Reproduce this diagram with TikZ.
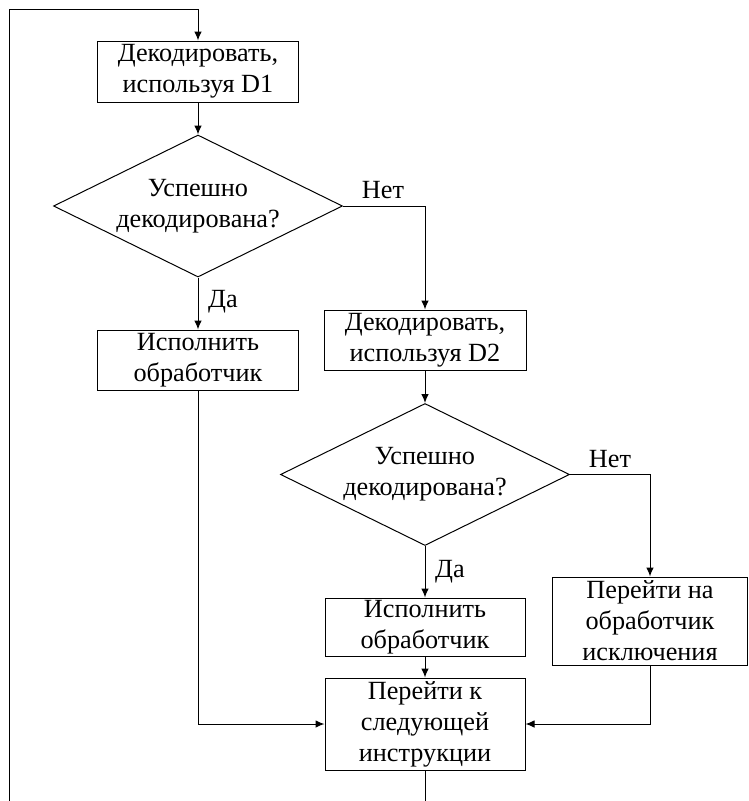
\documentclass[tikz,border=0pt]{standalone}
\usepackage{fontspec}
\setmainfont{Liberation Serif}
\usetikzlibrary{shapes.geometric,arrows.meta}
\begin{document}
\begin{tikzpicture}[x=0.4pt,y=-0.4pt,
  font=\fontsize{10.5}{12.4}\selectfont,
  box/.style={draw, line width=0.4pt, align=center, inner sep=0pt},
  dec/.style={draw, diamond, aspect=2, line width=0.4pt, align=center, inner sep=0pt,
    minimum width=115.6pt, minimum height=56.8pt},
  arr/.style={-{Latex[length=3.6pt,width=3pt]}, line width=0.4pt},
  lab/.style={inner sep=0pt}]
\useasboundingbox (0,0) rectangle (748,801);
\node[box, minimum width=80pt, minimum height=24.4pt] (d1) at (198,71.5) {Декодировать,\\используя D1};
\node[dec] (q1) at (198,206) {Успешно\\декодирована?};
\node[box, minimum width=80pt, minimum height=24pt] (e1) at (198,360) {Исполнить\\обработчик};
\node[box, minimum width=80.8pt, minimum height=24pt] (d2) at (425,340) {Декодировать,\\используя D2};
\node[dec] (q2) at (425,474.5) {Успешно\\декодирована?};
\node[box, minimum width=80pt, minimum height=23.2pt] (e2) at (425,627) {Исполнить\\обработчик};
\node[box, minimum width=78pt, minimum height=35.2pt] (x) at (650,621) {Перейти на\\обработчик\\исключения};
\node[box, minimum width=80pt, minimum height=36.8pt] (n) at (425,724) {Перейти к\\следующей\\инструкции};
\node[lab] (l1) at (383,190) {Нет};
\node[lab] (l2) at (223,302) {Да};
\node[lab] (l3) at (610,459) {Нет};
\node[lab] (l4) at (450,572) {Да};
\coordinate (top) at (9,9);
\coordinate (bl) at (9,801);
\coordinate (bot) at (425,801);
\draw[arr] (bl) -- (top) -| (d1.north);
\draw[arr] (d1) -- (q1);
\draw[arr] (q1.east) -| (d2.north);
\draw[arr] (q1.south) -- (e1.north);
\draw[arr] (d2) -- (q2);
\draw[arr] (q2.east) -| (x.north);
\draw[arr] (q2.south) -- (e2.north);
\draw[arr] (e2) -- (n);
\draw[arr] (e1.south) |- (n.west);
\draw[arr] (x.south) |- (n.east);
\draw (n.south) -- (bot);
\end{tikzpicture}
\end{document}
